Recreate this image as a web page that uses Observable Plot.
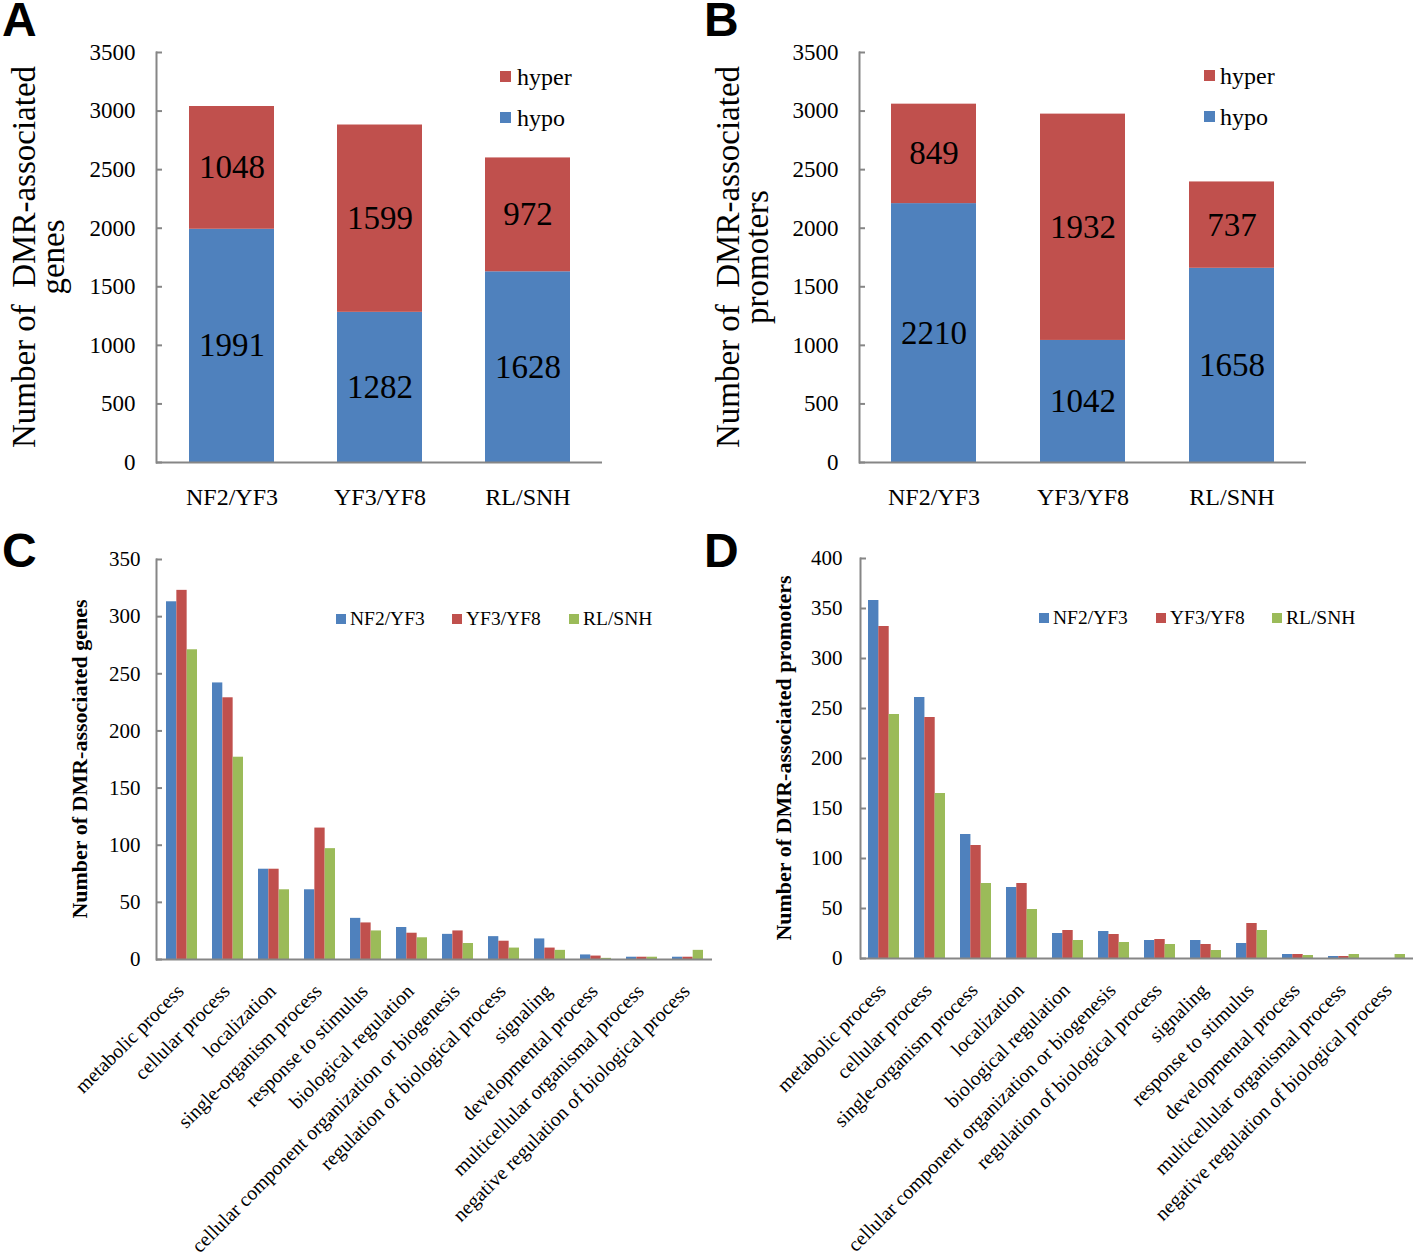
<!DOCTYPE html>
<html><head><meta charset="utf-8">
<script src="https://cdn.jsdelivr.net/npm/d3@7"></script>
<script src="https://cdn.jsdelivr.net/npm/@observablehq/plot@0.6"></script>
<style>
body{margin:0;background:#fff;}
#root{position:relative;width:1418px;height:1256px;overflow:hidden;font-family:"Liberation Serif","Times New Roman",serif;color:#000;background:#fff;}
.abs{position:absolute;white-space:pre;line-height:1;}
.letter{position:absolute;line-height:0.75;font-family:"Liberation Sans",Arial,sans-serif;font-weight:bold;font-size:48px;}
.panel{position:absolute;}
.panel svg{max-width:none;}
.panel svg text{font-family:"Liberation Serif","Times New Roman",serif;}
</style></head><body><div id="root"></div>
<script>
// ---------- data ----------
const comparisons = ["NF2/YF3", "YF3/YF8", "RL/SNH"];
const genesHypo = [1991, 1282, 1628];
const genesHyper = [1048, 1599, 972];
const promotersHypo = [2210, 1042, 1658];
const promotersHyper = [849, 1932, 737];
const stackTicks = [0, 500, 1000, 1500, 2000, 2500, 3000, 3500];

const goTermsGenes = ["metabolic process", "cellular process", "localization", "single-organism process",
  "response to stimulus", "biological regulation", "cellular component organization or biogenesis",
  "regulation of biological process", "signaling", "developmental process",
  "multicellular organismal process", "negative regulation of biological process"];
const genesNF2YF3 = [313, 242, 79, 61, 36, 28, 22, 20, 18, 4, 2, 2];
const genesYF3YF8 = [323, 229, 79, 115, 32, 23, 25, 16, 10, 3, 2, 2];
const genesRLSNH  = [271, 177, 61, 97, 25, 19, 14, 10, 8, 1, 2, 8];
const genesTicks = [0, 50, 100, 150, 200, 250, 300, 350];

const goTermsPromoters = ["metabolic process", "cellular process", "single-organism process", "localization",
  "biological regulation", "cellular component organization or biogenesis", "regulation of biological process",
  "signaling", "response to stimulus", "developmental process",
  "multicellular organismal process", "negative regulation of biological process"];
const promNF2YF3 = [358, 261, 124, 71, 25, 27, 18, 18, 15, 4, 2, 0];
const promYF3YF8 = [332, 241, 113, 75, 28, 24, 19, 14, 35, 4, 2, 0];
const promRLSNH  = [244, 165, 75, 49, 18, 16, 14, 8, 28, 3, 4, 4];
const promTicks = [0, 50, 100, 150, 200, 250, 300, 350, 400];

const seriesNames = ["NF2/YF3", "YF3/YF8", "RL/SNH"];
const seriesColors = ["#4F81BD", "#C0504D", "#9BBB59"];
const stackTypes = ["hypo", "hyper"];
const stackColors = ["#4F81BD", "#C0504D"];

// ---------- helpers ----------
const serif = '"Liberation Serif","Times New Roman",serif';
const axisGray = "#868686";
const root = document.getElementById("root");

function addPlot(svg, left, top) {
  const d = document.createElement("div");
  d.className = "panel";
  d.style.left = left + "px"; d.style.top = top + "px";
  d.appendChild(svg);
  root.appendChild(d);
}
function addText(str, x, y, {size = 20, weight = "normal", rotate = 0, align = "center"} = {}) {
  const d = document.createElement("div");
  d.className = "abs";
  d.textContent = str;
  d.style.left = x + "px"; d.style.top = y + "px";
  d.style.fontSize = size + "px";
  d.style.fontWeight = weight;
  const tx = align === "center" ? "-50%" : "0";
  d.style.transform = `translate(${tx},-50%)` + (rotate ? ` rotate(${rotate}deg)` : "");
  root.appendChild(d);
}
function addLetter(str, x, y) {
  const d = document.createElement("div");
  d.className = "letter";
  d.textContent = str;
  d.style.left = x + "px"; d.style.top = y + "px";
  root.appendChild(d);
}
function addSquare(x, y, s, color) {
  const d = document.createElement("div");
  d.style.position = "absolute";
  d.style.left = x + "px"; d.style.top = y + "px";
  d.style.width = s + "px"; d.style.height = s + "px";
  d.style.background = color;
  root.appendChild(d);
}
const svgStyle = (size) => `font-family:${serif};font-size:${size}px;background:transparent;overflow:visible;color:#000;`;

function stackedPanel(hypo, hyper, ml, mr) {
  const rows = comparisons.flatMap((c, i) => [
    {comparison: c, type: "hypo", y1: 0, y2: hypo[i], mid: hypo[i] / 2, value: hypo[i]},
    {comparison: c, type: "hyper", y1: hypo[i], y2: hypo[i] + hyper[i], mid: hypo[i] + hyper[i] / 2, value: hyper[i]}
  ]);
  return Plot.plot({
    width: 709, height: 530, marginLeft: ml, marginRight: mr, marginTop: 52, marginBottom: 68,
    style: svgStyle(23),
    x: {domain: comparisons, paddingInner: 0.428, paddingOuter: 0.214, label: null},
    y: {domain: [0, 3500], label: null},
    color: {domain: stackTypes, range: stackColors},
    marks: [
      Plot.barY(rows, {x: "comparison", y1: "y1", y2: "y2", fill: "type"}),
      Plot.text(rows, {x: "comparison", y: "mid", text: d => String(d.value), fontSize: 33, fontFamily: serif, fill: "#000"}),
      Plot.axisY({ticks: stackTicks, tickSize: 0, tickPadding: 21, tickFormat: d => String(d), label: null, fontSize: 23, fontFamily: serif}),
      Plot.axisY({ticks: stackTicks, tickSize: 6, dx: 6, tickFormat: () => "", label: null, stroke: axisGray, strokeWidth: 2}),
      Plot.axisX({tickSize: 0, tickPadding: 25, label: null, fontSize: 24, fontFamily: serif}),
      Plot.frame({anchor: "left", stroke: axisGray, strokeWidth: 2}),
      Plot.ruleY([0], {stroke: axisGray, strokeWidth: 2})
    ]
  });
}

function groupedPanel(terms, vals, yTicks, {width, ml, mr, mt, mb, tickPad}) {
  const n = terms.length;
  const step = (width - ml - mr) / n;
  const pin = 0.33;
  const bw = step * (1 - pin);
  const bars = vals.map((v, i) => Plot.barY(
    terms.map((t, j) => ({term: t, value: v[j], series: seriesNames[i]})),
    {x: "term", y: "value", fill: "series", insetLeft: i * bw / 3, insetRight: (2 - i) * bw / 3}
  ));
  return Plot.plot({
    width, height: 726, marginLeft: ml, marginRight: mr, marginTop: mt, marginBottom: mb,
    style: svgStyle(21),
    x: {domain: terms, paddingInner: pin, paddingOuter: pin / 2, label: null, axis: null},
    y: {domain: [yTicks[0], yTicks[yTicks.length - 1]], label: null},
    color: {domain: seriesNames, range: seriesColors},
    marks: [
      ...bars,
      Plot.axisY({ticks: yTicks, tickSize: 0, tickPadding: tickPad, tickFormat: d => String(d), label: null, fontSize: 21, fontFamily: serif}),
      Plot.axisY({ticks: yTicks, tickSize: 6, dx: 6, tickFormat: () => "", label: null, stroke: axisGray, strokeWidth: 2}),
      Plot.text(terms, {x: d => d, text: d => d, frameAnchor: "bottom", rotate: -45, textAnchor: "end",
        lineAnchor: "top", dx: -7, dy: 23, fontSize: 20, fontFamily: serif, fill: "#000"}),
      Plot.frame({anchor: "left", stroke: axisGray, strokeWidth: 2}),
      Plot.ruleY([0], {stroke: axisGray, strokeWidth: 2})
    ]
  });
}

// ---------- panels ----------
addPlot(stackedPanel(genesHypo, genesHyper, 156, 107), 0, 0);
addPlot(stackedPanel(promotersHypo, promotersHyper, 150, 112), 709, 0);
addPlot(groupedPanel(goTermsGenes, [genesNF2YF3, genesYF3YF8, genesRLSNH], genesTicks,
  {width: 720, ml: 156, mr: 8, mt: 29, mb: 297, tickPad: 16}), 0, 530);
addPlot(groupedPanel(goTermsPromoters, [promNF2YF3, promYF3YF8, promRLSNH], promTicks,
  {width: 709, ml: 151, mr: 5, mt: 28, mb: 298, tickPad: 18}), 709, 530);

// panel letters
addLetter("A", 2, 2);
addLetter("B", 704, 2);
addLetter("C", 2, 533);
addLetter("D", 704, 533);

// axis titles
addText("Number of  DMR-associated", 24, 257, {size: 33, rotate: -90});
addText("genes", 53, 257, {size: 33, rotate: -90});
addText("Number of  DMR-associated", 728, 257, {size: 33, rotate: -90});
addText("promoters", 757, 257, {size: 33, rotate: -90});
addText("Number of DMR-associated genes", 80, 759, {size: 22, weight: "bold", rotate: -90});
addText("Number of DMR-associated promoters", 784, 758, {size: 22, weight: "bold", rotate: -90});

// legends A/B (stack types, top item = hyper)
[[500, 517, 77], [1204, 1220, 76]].forEach(([sx, tx, y0]) => {
  [1, 0].forEach((k, r) => {
    const y = y0 + r * 41;
    addSquare(sx, y - 6, 11, stackColors[k]);
    addText(stackTypes[k], tx, y, {size: 24, align: "left"});
  });
});
// legends C/D
[[[336, 452, 569], 619], [[1039, 1156, 1272], 618]].forEach(([xs, y]) => {
  xs.forEach((x, i) => {
    addSquare(x, y - 5, 10, seriesColors[i]);
    addText(seriesNames[i], x + 14, y, {size: 19.5, align: "left"});
  });
});
</script></body></html>
